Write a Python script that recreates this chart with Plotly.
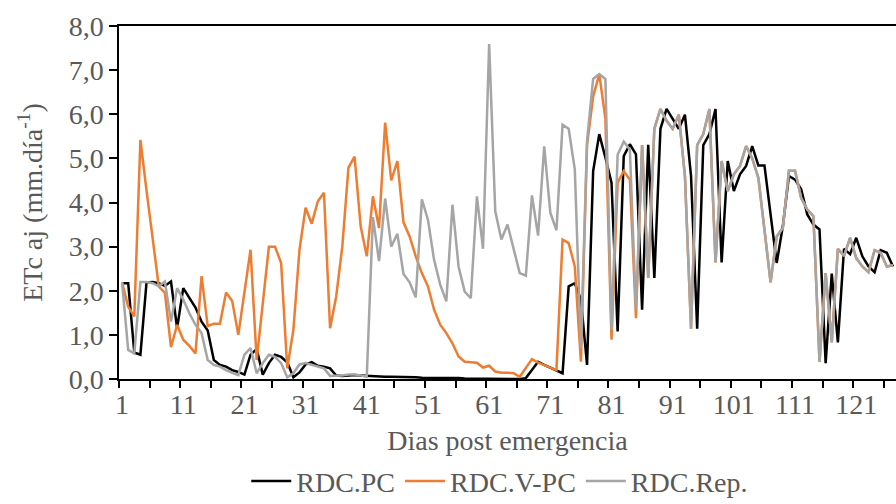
import plotly.graph_objects as go

days = list(range(1, 128))

rdc_pc = [
    2.17, 2.17, 0.60, 0.55, 2.19, 2.20, 2.17, 2.11, 2.21, 1.15,
    2.06, 1.85, 1.62, 1.30, 1.10, 0.43, 0.32, 0.28, 0.20, 0.16,
    0.10, 0.55, 0.68, 0.10, 0.36, 0.55, 0.50, 0.38, 0.04, 0.15,
    0.33, 0.38, 0.30, 0.28, 0.24, 0.08, 0.07, 0.08, 0.09, 0.08,
    0.07, 0.06, 0.06, 0.05, 0.05, 0.05, 0.04, 0.04, 0.04, 0.03,
    0.03, 0.03, 0.02, 0.02, 0.02, 0.02, 0.01, 0.01, 0.01, 0.01,
    0.01, 0.01, 0.00, 0.00, 0.00, 0.00, 0.02, 0.20, 0.39, 0.32,
    0.26, 0.20, 0.13, 2.10, 2.17, 1.80, 0.32, 4.71, 5.55, 5.02,
    4.45, 1.08, 5.05, 5.32, 5.09, 1.57, 5.31, 2.29, 5.67, 6.12,
    5.89, 5.67, 5.99, 4.60, 1.14, 5.30, 5.55, 6.12, 2.64, 4.94,
    4.26, 4.64, 4.83, 5.28, 4.84, 4.84, 3.73, 2.63, 3.46, 4.60,
    4.52, 4.30, 3.73, 3.50, 3.39, 0.36, 2.39, 0.83, 2.95, 2.83,
    3.20, 2.78, 2.55, 2.42, 2.92, 2.86, 2.55,
]

rdc_rep = [
    2.19, 0.66, 0.58, 2.20, 2.20, 2.17, 2.10, 2.21, 1.30, 2.06,
    1.80, 1.49, 1.23, 1.04, 0.43, 0.32, 0.28, 0.20, 0.14, 0.09,
    0.55, 0.70, 0.13, 0.36, 0.55, 0.50, 0.36, 0.04, 0.13, 0.33,
    0.36, 0.32, 0.28, 0.24, 0.07, 0.07, 0.08, 0.10, 0.10, 0.08,
    0.05, 3.67, 2.67, 4.09, 3.00, 3.29, 2.38, 2.19, 1.85, 4.07,
    3.61, 2.70, 2.14, 1.76, 3.95, 2.55, 1.98, 1.83, 4.14, 2.95,
    7.59, 3.80, 3.16, 3.50, 2.93, 2.40, 2.34, 4.16, 3.25, 5.27,
    3.77, 3.37, 5.76, 5.67, 4.75, 0.70, 5.40, 6.80, 6.91, 6.80,
    1.11, 5.08, 5.38, 5.20, 1.57, 5.30, 2.29, 5.67, 6.12, 5.85,
    5.67, 5.99, 4.60, 1.14, 5.30, 5.55, 6.12, 2.64, 4.94, 4.26,
    4.64, 4.83, 5.28, 5.00, 4.56, 3.39, 2.19, 3.23, 3.42, 4.72,
    4.72, 4.10, 3.84, 3.69, 0.39, 2.40, 0.83, 2.95, 2.79, 3.20,
    2.74, 2.55, 2.42, 2.92, 2.86, 2.55, 2.58,
]

rdc_vpc = [
    2.19, 1.64, 1.42, 5.42, 4.27, 3.18, 2.10, 1.95, 0.72, 1.23,
    0.89, 0.75, 0.58, 2.33, 1.20, 1.25, 1.25, 1.96, 1.77, 1.00,
    1.95, 2.93, 0.43, 1.72, 3.00, 3.00, 2.63, 0.24, 1.11, 2.93,
    3.88, 3.52, 4.03, 4.22, 1.15, 1.87, 3.00, 4.79, 5.04, 3.46,
    2.78, 4.14, 3.42, 5.81, 4.50, 4.94, 3.55, 3.23, 2.78, 2.40,
    2.10, 1.57, 1.23, 1.04, 0.81, 0.51, 0.39, 0.38, 0.37, 0.26,
    0.30, 0.17, 0.14, 0.14, 0.13, 0.05, 0.24, 0.45, 0.37, 0.32,
    0.26, 0.20, 3.16, 3.08, 2.55, 0.39, 5.30, 6.40, 6.91, 5.90,
    0.89, 4.45, 4.71, 4.52, 1.38, 5.30, 2.29, 5.67, 6.12, 5.85,
    5.67, 5.99, 4.60, 1.14, 5.30, 5.55, 6.12, 2.64, 4.94, 4.26,
    4.64, 4.83, 5.28, 5.00, 4.56, 3.39, 2.19, 3.23, 3.42, 4.72,
    4.72, 4.10, 3.84, 3.69, 0.39, 2.40, 0.83, 2.95, 2.79, 3.20,
    2.74, 2.55, 2.42, 2.92, 2.86, 2.55, 2.58,
]

x_labels = [1, 11, 21, 31, 41, 51, 61, 71, 81, 91, 101, 111, 121]
y_ticks = [0, 1, 2, 3, 4, 5, 6, 7, 8]
y_labels = ["0,0", "1,0", "2,0", "3,0", "4,0", "5,0", "6,0", "7,0", "8,0"]
x_minor = [0.5 + 5 * k for k in range(26)]

FONT = "Liberation Serif, Times New Roman, serif"
TXT = "#595959"
FS = 28

fig = go.Figure()
fig.add_trace(go.Scatter(x=days, y=rdc_pc, mode="lines", name="RDC.PC",
                         line=dict(color="#000000", width=2.5)))
fig.add_trace(go.Scatter(x=days, y=rdc_vpc, mode="lines", name="RDC.V-PC",
                         line=dict(color="#ED7D31", width=2.5)))
fig.add_trace(go.Scatter(x=days, y=rdc_rep, mode="lines", name="RDC.Rep.",
                         line=dict(color="#A5A5A5", width=2.5)))

fig.update_layout(
    width=896, height=504,
    margin=dict(l=119, r=0, t=26, b=125, autoexpand=False),
    paper_bgcolor="white", plot_bgcolor="white",
    font=dict(family=FONT, size=FS, color=TXT),
    showlegend=True,
    legend=dict(orientation="h", x=0.49, xanchor="center", xref="paper",
                yref="container", y=0.045, yanchor="middle",
                font=dict(size=FS, color=TXT),
                itemwidth=40, tracegroupgap=0),
)
fig.update_xaxes(
    range=[0.5, 127.5], showgrid=False, zeroline=False, automargin=False,
    showline=True, linecolor="black", linewidth=1.5, mirror=True,
    tickmode="array", tickvals=x_labels, ticktext=[str(v) for v in x_labels],
    ticks="", tickfont=dict(size=FS, color=TXT),
    minor=dict(tickvals=x_minor, ticks="outside", ticklen=7, tickcolor="black", tickwidth=1.5),
    title=dict(text="Dias post emergencia", font=dict(size=FS, color=TXT), standoff=14),
)
fig.update_yaxes(
    range=[0, 8], showgrid=False, zeroline=False, automargin=False,
    showline=True, linecolor="black", linewidth=1.5, mirror=True,
    tickmode="array", tickvals=y_ticks, ticktext=y_labels,
    ticks="outside", ticklen=8, tickcolor="black", tickwidth=1.5,
    tickfont=dict(size=FS, color=TXT),
    title=dict(text="ETc aj (mm.día<sup>-1</sup>)", font=dict(size=FS, color=TXT), standoff=18),
)

fig.write_html("out.html")
